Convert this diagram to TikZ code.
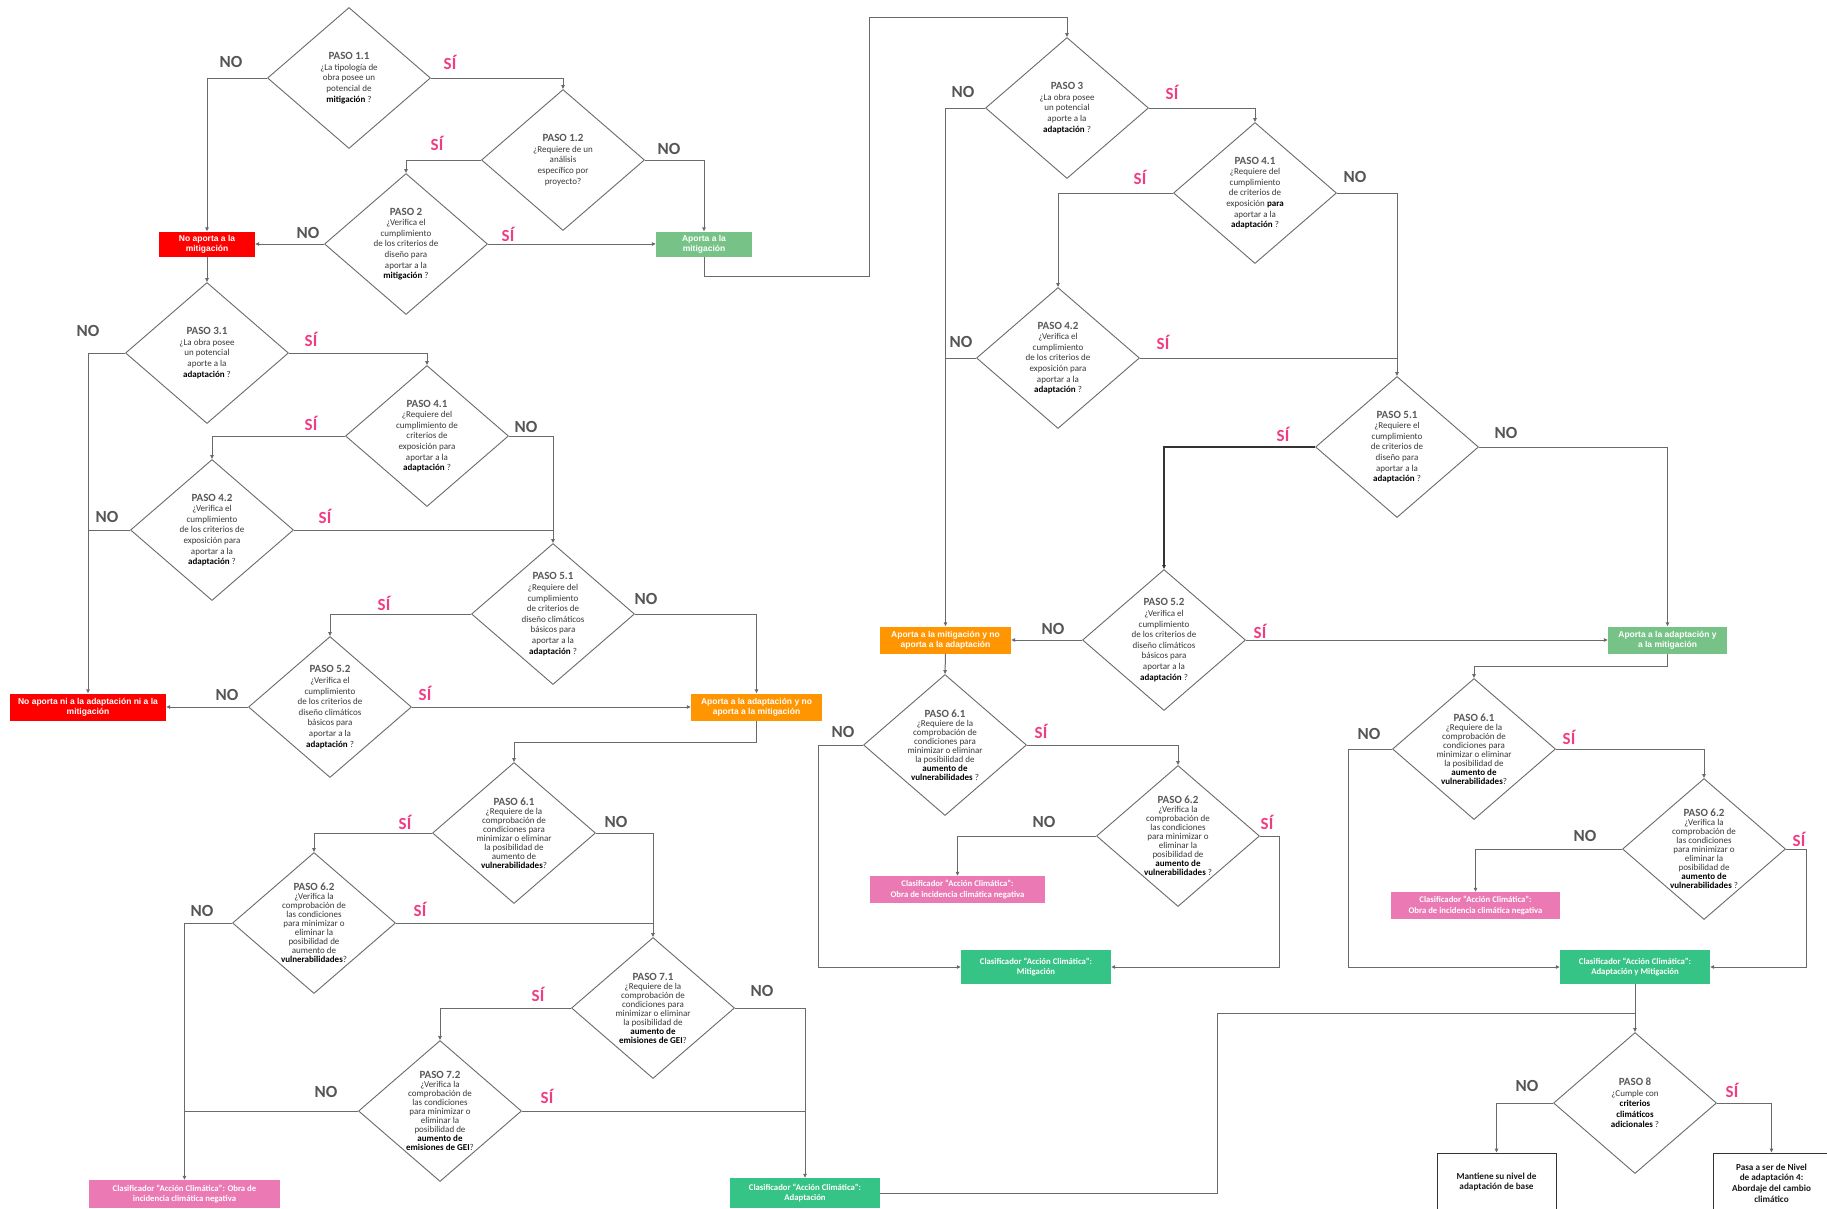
\documentclass[tikz,border=0pt]{standalone}
\usepackage{fontspec}
\setmainfont{Carlito}
\newfontfamily\libs{Liberation Sans}
\usetikzlibrary{shapes.geometric,arrows.meta}
\definecolor{linec}{HTML}{6A6A6A}
\definecolor{titc}{HTML}{5A5A5A}
\definecolor{bodyc}{HTML}{383838}
\definecolor{noc}{HTML}{555555}
\definecolor{sic}{HTML}{F03C83}
\definecolor{cred}{HTML}{FF0000}
\definecolor{lgreen}{HTML}{77C387}
\definecolor{corange}{HTML}{FF9500}
\definecolor{cpink}{HTML}{EA79B4}
\definecolor{dgreen}{HTML}{36C486}
\newcommand\ptit[1]{{\fontsize{11}{11}\selectfont\bfseries\color{titc}#1}}
\newcommand\bwd[1]{{\bfseries\color{black}#1}}
\begin{document}
\begin{tikzpicture}[x=1pt,y=-1pt,
  dia/.style={shape=diamond, draw=linec, line width=0.9pt, minimum width=163pt, minimum height=141pt, inner sep=0pt},
  dtext/.style={align=center, inner sep=0pt, text=bodyc, font=\fontsize{9}{10.6}\selectfont},
  dtextt/.style={align=center, inner sep=0pt, text=bodyc, font=\fontsize{9}{9}\selectfont},
  conn/.style={draw=linec, line width=1pt},
  arr/.style={conn, -{Triangle[length=4pt,width=3.5pt]}},
  nol/.style={font=\bfseries\fontsize{17}{17}\selectfont, text=noc, inner sep=0pt},
  sil/.style={font=\bfseries\fontsize{17}{17}\selectfont, text=sic, inner sep=0pt},
  bx/.style={align=center, text=white, inner sep=0pt, font=\libs\bfseries\fontsize{8.5}{10.2}\selectfont},
  cbx/.style={align=center, text=white, inner sep=0pt, font=\bfseries\fontsize{8.7}{10.5}\selectfont},
  wbx/.style={align=center, draw=black!80, line width=0.9pt, text=black!90, inner sep=0pt, font=\bfseries\fontsize{9.2}{10.6}\selectfont}
]
\useasboundingbox (0,0) rectangle (1827,1208);
\clip (0,0) rectangle (1827,1208);
\fill[white] (0,0) rectangle (1827,1208);

% ---------- diamonds ----------
\node[dia] (p11) at (349,78) {};
\node[dia] (p12) at (563,160) {};
\node[dia] (p2) at (406,244) {};
\node[dia] (p31) at (207,353) {};
\node[dia] (p41L) at (427,436) {};
\node[dia] (p42L) at (212,530) {};
\node[dia] (p51L) at (553,614) {};
\node[dia] (p52L) at (330,707) {};
\node[dia] (p61L) at (514,833) {};
\node[dia] (p62L) at (314,923) {};
\node[dia] (p71) at (653,1008) {};
\node[dia] (p72) at (440,1111) {};
\node[dia] (p3) at (1067,108) {};
\node[dia] (p41R) at (1255,193) {};
\node[dia] (p42R) at (1058,358) {};
\node[dia] (p51R) at (1397,447) {};
\node[dia] (p52R) at (1164,640) {};
\node[dia] (p61M) at (945,745) {};
\node[dia] (p62M) at (1178,836) {};
\node[dia] (p61R) at (1474,749) {};
\node[dia] (p62R) at (1704,849) {};
\node[dia] (p8) at (1635,1103) {};

% ---------- diamond texts ----------
\node[dtext] (t11) at (p11) {\ptit{PASO 1.1}\\¿La tipología de\\obra posee un\\potencial de\\\bwd{mitigación} ?};
\node[dtext] (t12) at (p12) {\ptit{PASO 1.2}\\¿Requiere de un\\análisis\\específico por\\proyecto?};
\node[dtext] (t2) at (p2) {\ptit{PASO 2}\\¿Verifica el\\cumplimiento\\de los criterios de\\diseño para\\aportar a la\\\bwd{mitigación} ?};
\node[dtext] (t31) at (p31) {\ptit{PASO 3.1}\\¿La obra posee\\un potencial\\aporte a la\\\bwd{adaptación} ?};
\node[dtext] (t41L) at (p41L) {\ptit{PASO 4.1}\\¿Requiere del\\cumplimiento de\\criterios de\\exposición para\\aportar a la\\\bwd{adaptación} ?};
\node[dtext] (t42L) at (p42L) {\ptit{PASO 4.2}\\¿Verifica el\\cumplimiento\\de los criterios de\\exposición para\\aportar a la\\\bwd{adaptación} ?};
\node[dtext] (t51L) at (p51L) {\ptit{PASO 5.1}\\¿Requiere del\\cumplimiento\\de criterios de\\diseño climáticos\\básicos para\\aportar a la\\\bwd{adaptación} ?};
\node[dtext] (t52L) at (p52L) {\ptit{PASO 5.2}\\¿Verifica el\\cumplimiento\\de los criterios de\\diseño climáticos\\básicos para\\aportar a la\\\bwd{adaptación} ?};
\node[dtextt] (t61L) at (p61L) {\ptit{PASO 6.1}\\¿Requiere de la\\comprobación de\\condiciones para\\minimizar o eliminar\\la posibilidad de\\aumento de\\\bwd{vulnerabilidades}?};
\node[dtextt] (t62L) at (p62L) {\ptit{PASO 6.2}\\¿Verifica la\\comprobación de\\las condiciones\\para minimizar o\\eliminar la\\posibilidad de\\aumento de\\\bwd{vulnerabilidades}?};
\node[dtextt] (t71) at (p71) {\ptit{PASO 7.1}\\¿Requiere de la\\comprobación de\\condiciones para\\minimizar o eliminar\\la posibilidad de\\\bwd{aumento de}\\\bwd{emisiones de GEI}?};
\node[dtextt] (t72) at (p72) {\ptit{PASO 7.2}\\¿Verifica la\\comprobación de\\las condiciones\\para minimizar o\\eliminar la\\posibilidad de\\\bwd{aumento de}\\\bwd{emisiones de GEI}?};
\node[dtext] (t3) at (p3) {\ptit{PASO 3}\\¿La obra posee\\un potencial\\aporte a la\\\bwd{adaptación} ?};
\node[dtext] (t41R) at (p41R) {\ptit{PASO 4.1}\\¿Requiere del\\cumplimiento\\de criterios de\\exposición \bwd{para}\\aportar a la\\\bwd{adaptación} ?};
\node[dtext] (t42R) at (p42R) {\ptit{PASO 4.2}\\¿Verifica el\\cumplimiento\\de los criterios de\\exposición para\\aportar a la\\\bwd{adaptación} ?};
\node[dtext] (t51R) at (p51R) {\ptit{PASO 5.1}\\¿Requiere el\\cumplimiento\\de criterios de\\diseño para\\aportar a la\\\bwd{adaptación} ?};
\node[dtext] (t52R) at (p52R) {\ptit{PASO 5.2}\\¿Verifica el\\cumplimiento\\de los criterios de\\diseño climáticos\\básicos para\\aportar a la\\\bwd{adaptación} ?};
\node[dtextt] (t61M) at (p61M) {\ptit{PASO 6.1}\\¿Requiere de la\\comprobación de\\condiciones para\\minimizar o eliminar\\la posibilidad de\\\bwd{aumento de}\\\bwd{vulnerabilidades} ?};
\node[dtextt] (t62M) at (p62M) {\ptit{PASO 6.2}\\¿Verifica la\\comprobación de\\las condiciones\\para minimizar o\\eliminar la\\posibilidad de\\\bwd{aumento de}\\\bwd{vulnerabilidades} ?};
\node[dtextt] (t61R) at (p61R) {\ptit{PASO 6.1}\\¿Requiere de la\\comprobación de\\condiciones para\\minimizar o eliminar\\la posibilidad de\\\bwd{aumento de}\\\bwd{vulnerabilidades}?};
\node[dtextt] (t62R) at (p62R) {\ptit{PASO 6.2}\\¿Verifica la\\comprobación de\\las condiciones\\para minimizar o\\eliminar la\\posibilidad de\\\bwd{aumento de}\\\bwd{vulnerabilidades} ?};
\node[dtext] (t8) at (p8) {\ptit{PASO 8}\\¿Cumple con\\\bwd{criterios}\\\bwd{climáticos}\\\bwd{adicionales} ?};

% ---------- boxes ----------
\node[bx, fill=cred, minimum width=96pt, minimum height=25pt] (nom) at (207,244) {No aporta a la\\mitigación};
\node[bx, fill=lgreen, minimum width=96pt, minimum height=25pt] (apm) at (704,244) {Aporta a la\\mitigación};
\node[bx, fill=cred, minimum width=156pt, minimum height=27pt] (nad) at (88,707) {No aporta ni a la adaptación ni a la\\mitigación};
\node[bx, fill=corange, minimum width=131pt, minimum height=27pt] (aad) at (756.5,707) {Aporta a la adaptación y no\\aporta a la mitigación};
\node[bx, fill=corange, minimum width=131pt, minimum height=27pt] (amn) at (945.5,640) {Aporta a la mitigación y no\\aporta a la adaptación};
\node[bx, fill=lgreen, minimum width=119pt, minimum height=27pt] (aam) at (1667.5,640) {Aporta a la adaptación y\\a la mitigación};
\node[cbx, fill=cpink, minimum width=191pt, minimum height=28pt] (cneg1) at (184.5,1194) {Clasificador “Acción Climática”: Obra de\\incidencia climática negativa};
\node[cbx, fill=dgreen, minimum width=150pt, minimum height=30pt] (cada) at (805,1193) {Clasificador “Acción Climática”:\\Adaptación};
\node[cbx, fill=cpink, minimum width=175pt, minimum height=27pt] (cneg2) at (957.5,889.5) {Clasificador “Acción Climática”:\\Obra de incidencia climática negativa};
\node[cbx, fill=dgreen, minimum width=150pt, minimum height=34pt] (cmit) at (1036,967) {Clasificador “Acción Climática”:\\Mitigación};
\node[cbx, fill=cpink, minimum width=169pt, minimum height=27pt] (cneg3) at (1475.5,905.5) {Clasificador “Acción Climática”:\\Obra de incidencia climática negativa};
\node[cbx, fill=dgreen, minimum width=150pt, minimum height=34pt] (cam) at (1635,967) {Clasificador “Acción Climática”:\\Adaptación y Mitigación};
\node[wbx, minimum width=119pt, minimum height=58pt] (mant) at (1496.5,1182) {Mantiene su nivel de\\adaptación de base};
\node[wbx, minimum width=117pt, minimum height=60pt] (pasa) at (1771.5,1183) {Pasa a ser de Nivel\\de adaptación 4:\\Abordaje del cambio\\climático};

% ---------- connectors ----------
\draw[arr] (p11.west) -| (nom.north);
\draw[arr] (p11.east) -| (p12.north);
\draw[arr] (p12.west) -| (p2.north);
\draw[arr] (p12.east) -| (apm.north);
\draw[arr] (p2.west) -- (nom.east);
\draw[arr] (p2.east) -- (apm.west);
\draw[arr] (nom.south) -- (p31.north);
\draw[arr] (apm.south) -- (704,276) -- (869,276) -- (869,17) -| (p3.north);
\draw[arr] (p31.west) -| (nad.north);
\draw[arr] (p31.east) -| (p41L.north);
\draw[arr] (p41L.west) -| (p42L.north);
\draw[arr] (p41L.east) -| (p51L.north);
\draw[conn] (p42L.west) -- (88,530);
\draw[conn] (p42L.east) -- (553,530);
\draw[arr] (p51L.west) -| (p52L.north);
\draw[arr] (p51L.east) -| (aad.north);
\draw[arr] (p52L.west) -- (nad.east);
\draw[arr] (p52L.east) -- (aad.west);
\draw[arr] (aad.south) -- (756.5,742) -| (p61L.north);
\draw[arr] (p61L.west) -| (p62L.north);
\draw[arr] (p61L.east) -| (p71.north);
\draw[conn] (p62L.east) -- (653,923);
\draw[arr] (p62L.west) -| (cneg1.north);
\draw[arr] (p71.west) -| (p72.north);
\draw[arr] (p71.east) -| (cada.north);
\draw[conn] (p72.east) -- (805,1111);
\draw[conn] (p72.west) -- (184.5,1111);
\draw[conn] (cada.east) -- (1217,1193) |- (1635,1013);
\draw[arr] (cam.south) -- (p8.north);
\draw[arr] (p3.west) -| (amn.north);
\draw[arr] (p3.east) -| (p41R.north);
\draw[arr] (p41R.west) -| (p42R.north);
\draw[arr] (p41R.east) -| (p51R.north);
\draw[conn] (p42R.west) -- (945.5,358);
\draw[conn] (p42R.east) -- (1397,358);
\draw[arr, draw=black!80, line width=1.1pt] (p51R.west) -| (p52R.north);
\draw[arr] (p51R.east) -| (aam.north);
\draw[arr] (p52R.west) -- (amn.east);
\draw[arr] (p52R.east) -- (aam.west);
\draw[arr] (amn.south) -- (p61M.north);
\draw[arr] (aam.south) -- (1667.5,666) -| (p61R.north);
\draw[arr] (p61M.west) -- (818,745) |- (cmit.west);
\draw[arr] (p61M.east) -| (p62M.north);
\draw[arr] (p62M.west) -| (cneg2.north);
\draw[arr] (p62M.east) -- (1279,836) |- (cmit.east);
\draw[arr] (p61R.west) -- (1348,749) |- (cam.west);
\draw[arr] (p61R.east) -| (p62R.north);
\draw[arr] (p62R.west) -| (cneg3.north);
\draw[arr] (p62R.east) -- (1806,849) |- (cam.east);
\draw[arr] (p8.west) -| (mant.north);
\draw[arr] (p8.east) -| (pasa.north);

% ---------- labels ----------
\node[nol] (l1) at (231,62) {NO};
\node[sil] (l2) at (450,62) {SÍ};
\node[sil] (l3) at (437,143) {SÍ};
\node[nol] (l4) at (669,149) {NO};
\node[nol] (l5) at (308,233) {NO};
\node[sil] (l6) at (508,234) {SÍ};
\node[nol] (l7) at (88,331) {NO};
\node[sil] (l8) at (311,339) {SÍ};
\node[sil] (l9) at (311,423) {SÍ};
\node[nol] (l10) at (526,427) {NO};
\node[nol] (l11) at (107,517) {NO};
\node[sil] (l12) at (325,516) {SÍ};
\node[sil] (l13) at (384,603) {SÍ};
\node[nol] (l14) at (646,599) {NO};
\node[nol] (l15) at (227,695) {NO};
\node[sil] (l16) at (425,693) {SÍ};
\node[sil] (l17) at (405,822) {SÍ};
\node[nol] (l18) at (616,822) {NO};
\node[nol] (l19) at (202,911) {NO};
\node[sil] (l20) at (420,909) {SÍ};
\node[sil] (l21) at (538,994) {SÍ};
\node[nol] (l22) at (762,991) {NO};
\node[nol] (l23) at (326,1092) {NO};
\node[sil] (l24) at (547,1096) {SÍ};
\node[nol] (l25) at (963,92) {NO};
\node[sil] (l26) at (1172,92) {SÍ};
\node[sil] (l27) at (1140,177) {SÍ};
\node[nol] (l28) at (1355,177) {NO};
\node[nol] (l29) at (961,342) {NO};
\node[sil] (l30) at (1163,342) {SÍ};
\node[sil] (l31) at (1283,434) {SÍ};
\node[nol] (l32) at (1506,433) {NO};
\node[nol] (l33) at (1053,629) {NO};
\node[sil] (l34) at (1260,631) {SÍ};
\node[nol] (l35) at (843,732) {NO};
\node[sil] (l36) at (1041,731) {SÍ};
\node[nol] (l37) at (1044,822) {NO};
\node[sil] (l38) at (1267,822) {SÍ};
\node[nol] (l39) at (1369,734) {NO};
\node[sil] (l40) at (1569,737) {SÍ};
\node[nol] (l41) at (1585,836) {NO};
\node[sil] (l42) at (1799,839) {SÍ};
\node[nol] (l43) at (1527,1086) {NO};
\node[sil] (l44) at (1732,1090) {SÍ};
\end{tikzpicture}
\end{document}
